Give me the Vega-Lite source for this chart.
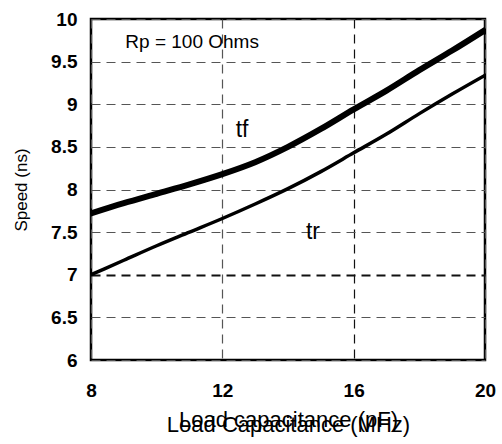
{
  "$schema": "https://vega.github.io/schema/vega-lite/v6.json",
  "autosize": "none",
  "width": 394,
  "height": 341,
  "padding": {"left": 91, "top": 19, "right": 17, "bottom": 84},
  "background": "white",
  "config": {
    "font": "Liberation Sans",
    "view": {"stroke": "black", "strokeWidth": 2.5}
  },
  "datasets": {
    "curves": [
      {"series": "tf", "c": 8, "speed": 7.72},
      {"series": "tf", "c": 9, "speed": 7.84},
      {"series": "tf", "c": 10, "speed": 7.95},
      {"series": "tf", "c": 11, "speed": 8.06},
      {"series": "tf", "c": 12, "speed": 8.18},
      {"series": "tf", "c": 13, "speed": 8.32},
      {"series": "tf", "c": 14, "speed": 8.5},
      {"series": "tf", "c": 15, "speed": 8.71},
      {"series": "tf", "c": 16, "speed": 8.94},
      {"series": "tf", "c": 17, "speed": 9.16},
      {"series": "tf", "c": 18, "speed": 9.4},
      {"series": "tf", "c": 19, "speed": 9.63},
      {"series": "tf", "c": 20, "speed": 9.87},
      {"series": "tr", "c": 8, "speed": 7.0},
      {"series": "tr", "c": 9, "speed": 7.17},
      {"series": "tr", "c": 10, "speed": 7.34},
      {"series": "tr", "c": 11, "speed": 7.5},
      {"series": "tr", "c": 12, "speed": 7.66},
      {"series": "tr", "c": 13, "speed": 7.83},
      {"series": "tr", "c": 14, "speed": 8.01},
      {"series": "tr", "c": 15, "speed": 8.21},
      {"series": "tr", "c": 16, "speed": 8.43},
      {"series": "tr", "c": 17, "speed": 8.65},
      {"series": "tr", "c": 18, "speed": 8.89},
      {"series": "tr", "c": 19, "speed": 9.12},
      {"series": "tr", "c": 20, "speed": 9.34}
    ],
    "labels": [
      {"c": 12.6, "speed": 8.7, "text": "tf", "size": 23},
      {"c": 14.76, "speed": 7.5, "text": "tr", "size": 23},
      {"c": 11.08, "speed": 9.73, "text": "Rp = 100 Ohms", "size": 19}
    ]
  },
  "layer": [
    {
      "data": {"name": "curves"},
      "mark": {"type": "line", "color": "black", "strokeCap": "round", "strokeJoin": "round", "interpolate": "monotone", "clip": true},
      "encoding": {
        "x": {
          "field": "c", "type": "quantitative",
          "scale": {"domain": [8, 20], "nice": false, "zero": false},
          "axis": {
            "values": [8, 12, 16, 20],
            "title": ["Load capacitance (pF)", "Load Capacitance (MHz)"],
            "titleLineHeight": 5,
            "titleFontSize": 22,
            "titleFontWeight": "normal",
            "titleColor": "black",
            "titlePadding": 9,
            "labelFontSize": 19,
            "labelFontWeight": "bold",
            "labelColor": "black",
            "labelPadding": 21,
            "labelFlush": false,
            "ticks": false,
            "domain": false,
            "grid": true,
            "gridColor": {"condition": {"test": "datum.value === 16", "value": "#111"}, "value": "#555"},
            "gridDash": [9, 6],
            "gridWidth": 1.2
          }
        },
        "y": {
          "field": "speed", "type": "quantitative",
          "scale": {"domain": [6, 10], "nice": false, "zero": false},
          "axis": {
            "values": [6, 6.5, 7, 7.5, 8, 8.5, 9, 9.5, 10],
            "format": "~g",
            "title": "Speed (ns)",
            "titleFontSize": 17,
            "titleFontWeight": "normal",
            "titleColor": "black",
            "titlePadding": 20,
            "labelFontSize": 19,
            "labelFontWeight": "bold",
            "labelColor": "black",
            "labelPadding": 14,
            "labelFlush": false,
            "ticks": false,
            "domain": false,
            "grid": true,
            "gridColor": {"condition": {"test": "datum.value === 7", "value": "#111"}, "value": "#555"},
            "gridWidth": {"condition": {"test": "datum.value === 7", "value": 2}, "value": 1.2},
            "gridDash": [9, 6]
          }
        },
        "detail": {"field": "series"},
        "strokeWidth": {
          "field": "series", "type": "nominal",
          "scale": {"domain": ["tf", "tr"], "range": [6, 3.5]},
          "legend": null
        }
      }
    },
    {
      "data": {"name": "labels"},
      "mark": {"type": "text", "color": "black", "baseline": "middle", "align": "center"},
      "encoding": {
        "x": {"field": "c", "type": "quantitative"},
        "y": {"field": "speed", "type": "quantitative"},
        "text": {"field": "text"},
        "size": {"field": "size", "type": "quantitative", "scale": null}
      }
    }
  ]
}
